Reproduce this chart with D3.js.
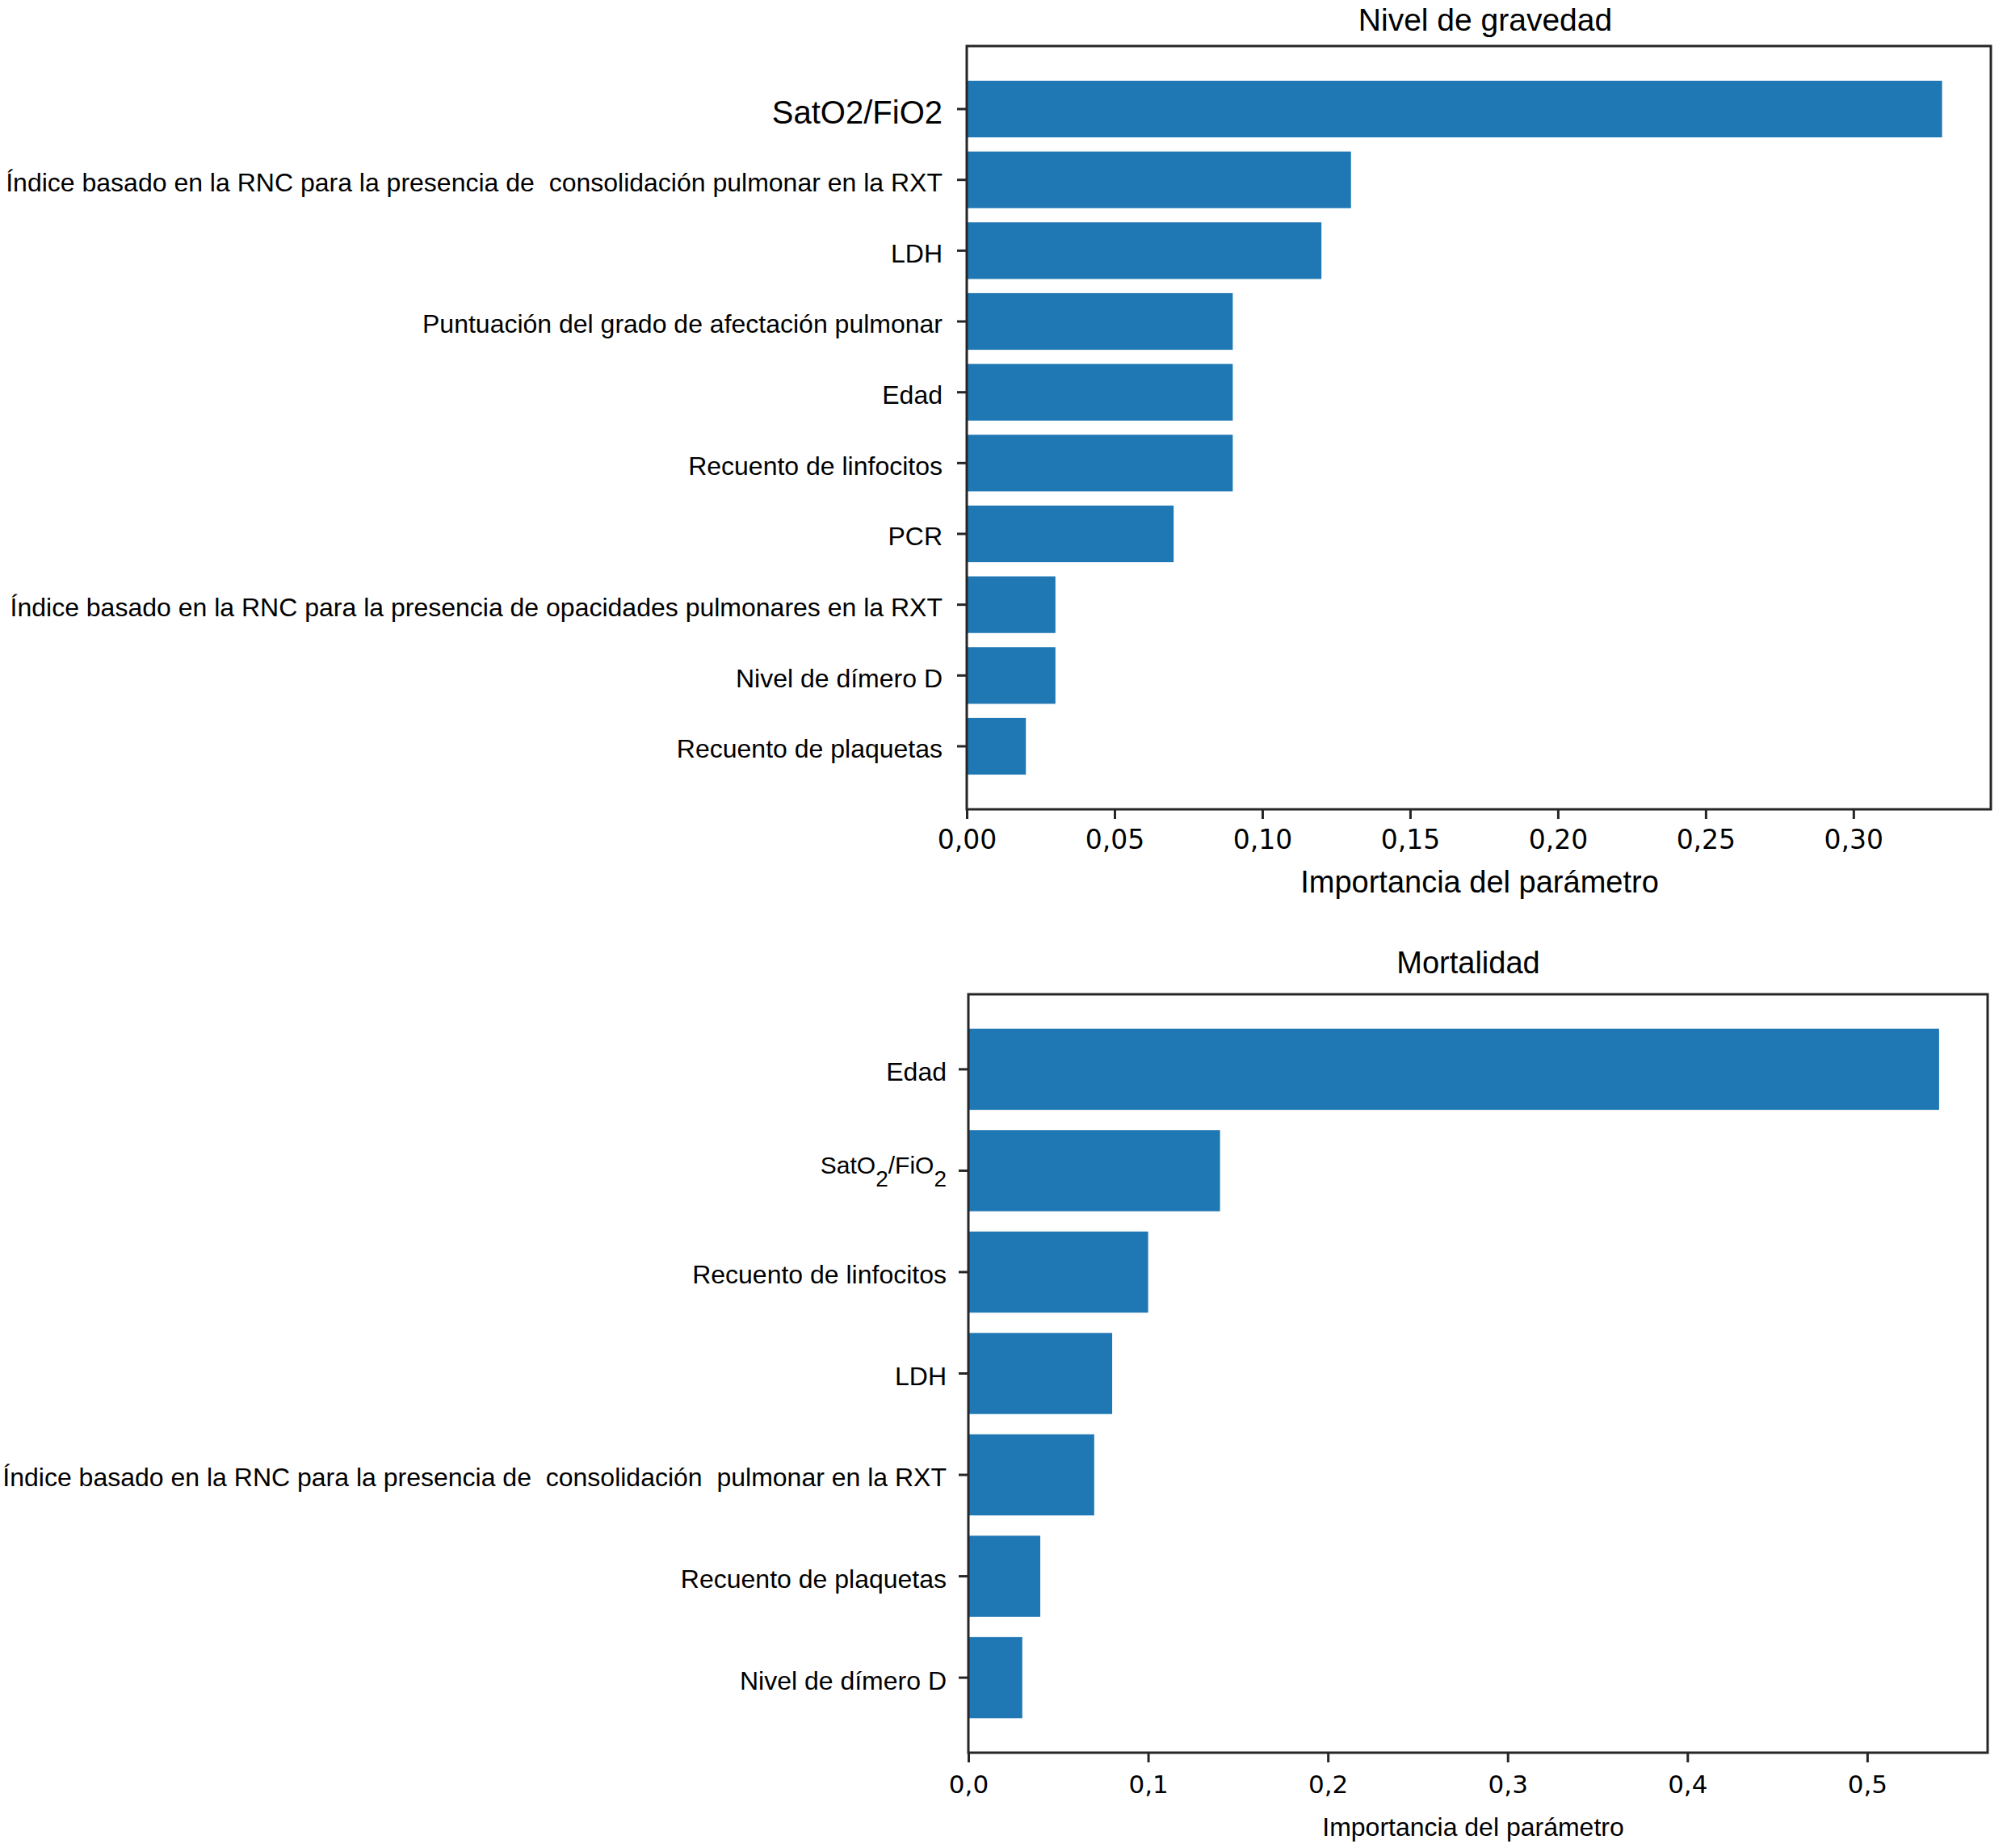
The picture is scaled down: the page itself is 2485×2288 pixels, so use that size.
<!DOCTYPE html>
<html>
<head>
<meta charset="utf-8">
<script src="https://cdn.jsdelivr.net/npm/d3@7"></script>
<style>
  body { margin: 0; background: #fff; }
  svg text { fill: #000; }
</style>
</head>
<body>
<svg id="chart" width="2485" height="2288"></svg>
<script>
// data, top panel (nivel de gravedad)
const severityLabels = [
  "SatO2/FiO2",
  "Índice basado en la RNC para la presencia de  consolidación pulmonar en la RXT",
  "LDH",
  "Puntuación del grado de afectación pulmonar",
  "Edad",
  "Recuento de linfocitos",
  "PCR",
  "Índice basado en la RNC para la presencia de opacidades pulmonares en la RXT",
  "Nivel de dímero D",
  "Recuento de plaquetas"
];
const severityValues = [0.33, 0.13, 0.12, 0.09, 0.09, 0.09, 0.07, 0.03, 0.03, 0.02];
const severityTicks = [0, 0.05, 0.1, 0.15, 0.2, 0.25, 0.3];

// data, bottom panel (mortalidad); "_2" marks a subscript
const mortalityLabels = [
  "Edad",
  "SatO_2/FiO_2",
  "Recuento de linfocitos",
  "LDH",
  "Índice basado en la RNC para la presencia de  consolidación  pulmonar en la RXT",
  "Recuento de plaquetas",
  "Nivel de dímero D"
];
const mortalityValues = [0.54, 0.14, 0.10, 0.08, 0.07, 0.04, 0.03];
const mortalityTicks = [0, 0.1, 0.2, 0.3, 0.4, 0.5];

const xTitle = "Importancia del parámetro";

const locale = d3.formatLocale({ decimal: ",", thousands: ".", grouping: [3], currency: ["", " €"] });
const svg = d3.select("svg#chart");
const barColor = "#1f77b4";
const labelFont = "'Liberation Sans', Arial, sans-serif";
const tickFont = "'DejaVu Sans', sans-serif";

const drawPanel = cfg => {
  const { labels, values, ticks, box } = cfg;
  const n = labels.length;

  //scale functions, with matplotlib-like 5% margins
  const xScale = d3
    .scaleLinear()
    .domain([0, d3.max(values) * 1.05])
    .range([box.left, box.right]);

  const yScale = d3
    .scaleBand()
    .domain(labels)
    .range([box.top, box.bottom])
    .paddingInner(0.2)
    .paddingOuter(0.05 * (n - 0.2));

  const g = svg.append("g");

  //bars
  g.selectAll("rect.bar")
    .data(values)
    .join("rect")
    .attr("class", "bar")
    .attr("x", xScale(0))
    .attr("y", (d, i) => yScale(labels[i]))
    .attr("width", d => xScale(d) - xScale(0))
    .attr("height", yScale.bandwidth())
    .attr("fill", barColor);

  //frame
  g.append("rect")
    .attr("x", box.left)
    .attr("y", box.top)
    .attr("width", box.right - box.left)
    .attr("height", box.bottom - box.top)
    .attr("fill", "none")
    .attr("stroke", "#262626")
    .attr("stroke-width", 3);

  //x axis
  const xAxis = g
    .append("g")
    .attr("transform", `translate(0, ${box.bottom})`)
    .call(
      d3.axisBottom(xScale)
        .tickValues(ticks)
        .tickSize(12)
        .tickPadding(cfg.xPad)
        .tickFormat(locale.format(cfg.fmt))
    );
  xAxis.select(".domain").remove();
  xAxis.selectAll("line").attr("stroke", "#262626").attr("stroke-width", 3);
  xAxis.selectAll("text")
    .attr("font-family", tickFont)
    .attr("font-size", cfg.tickSize)
    .attr("fill", "#000");

  //y axis
  const yAxis = g
    .append("g")
    .attr("transform", `translate(${box.left}, 0)`)
    .call(d3.axisLeft(yScale).tickSize(12).tickPadding(cfg.yPad));
  yAxis.select(".domain").remove();
  yAxis.selectAll("line").attr("stroke", "#262626").attr("stroke-width", 3);
  yAxis.selectAll("text")
    .attr("font-family", labelFont)
    .attr("font-size", cfg.labelSize)
    .attr("fill", "#000")
    .attr("dy", "0.45em")
    .style("white-space", "pre");

  if (cfg.firstLabelSize) {
    yAxis.selectAll("text")
      .filter((d, i) => i === 0)
      .attr("font-size", cfg.firstLabelSize)
      .attr("dy", "0.45em");
  }

  // subscripts written as "_2"
  yAxis.selectAll("text")
    .filter(d => d.includes("_"))
    .each(function (d) {
      const t = d3.select(this).text(null).attr("dy", null).attr("font-size", 30);
      d.split(/(_\d)/).filter(s => s).forEach((part, k) => {
        if (part.startsWith("_")) {
          t.append("tspan").text(part.slice(1))
            .attr("font-size", 28)
            .attr("dy", 16);
        } else {
          t.append("tspan").text(part).attr("dy", k === 0 ? 4 : -16);
        }
      });
    });

  //titles
  svg.append("text")
    .attr("x", cfg.titleX)
    .attr("y", cfg.titleY)
    .attr("text-anchor", "middle")
    .attr("font-family", labelFont)
    .attr("font-size", cfg.titleSize)
    .text(cfg.title);

  svg.append("text")
    .attr("x", cfg.xTitleX)
    .attr("y", cfg.xTitleY)
    .attr("text-anchor", "middle")
    .attr("font-family", labelFont)
    .attr("font-size", cfg.xTitleSize)
    .text(xTitle);
};

drawPanel({
  labels: severityLabels,
  values: severityValues,
  ticks: severityTicks,
  fmt: ".2f",
  box: { left: 1197, right: 2465, top: 57, bottom: 1002 },
  xPad: 14,
  yPad: 18,
  tickSize: 33,
  labelSize: 32,
  firstLabelSize: 40,
  title: "Nivel de gravedad",
  titleX: 1839,
  titleY: 38,
  titleSize: 39,
  xTitleX: 1832,
  xTitleY: 1105,
  xTitleSize: 38
});

drawPanel({
  labels: mortalityLabels,
  values: mortalityValues,
  ticks: mortalityTicks,
  fmt: ".1f",
  box: { left: 1199, right: 2461, top: 1231, bottom: 2170 },
  xPad: 16,
  yPad: 15,
  tickSize: 31,
  labelSize: 32,
  title: "Mortalidad",
  titleX: 1818,
  titleY: 1205,
  titleSize: 38,
  xTitleX: 1824,
  xTitleY: 2273,
  xTitleSize: 32
});
</script>
</body>
</html>
